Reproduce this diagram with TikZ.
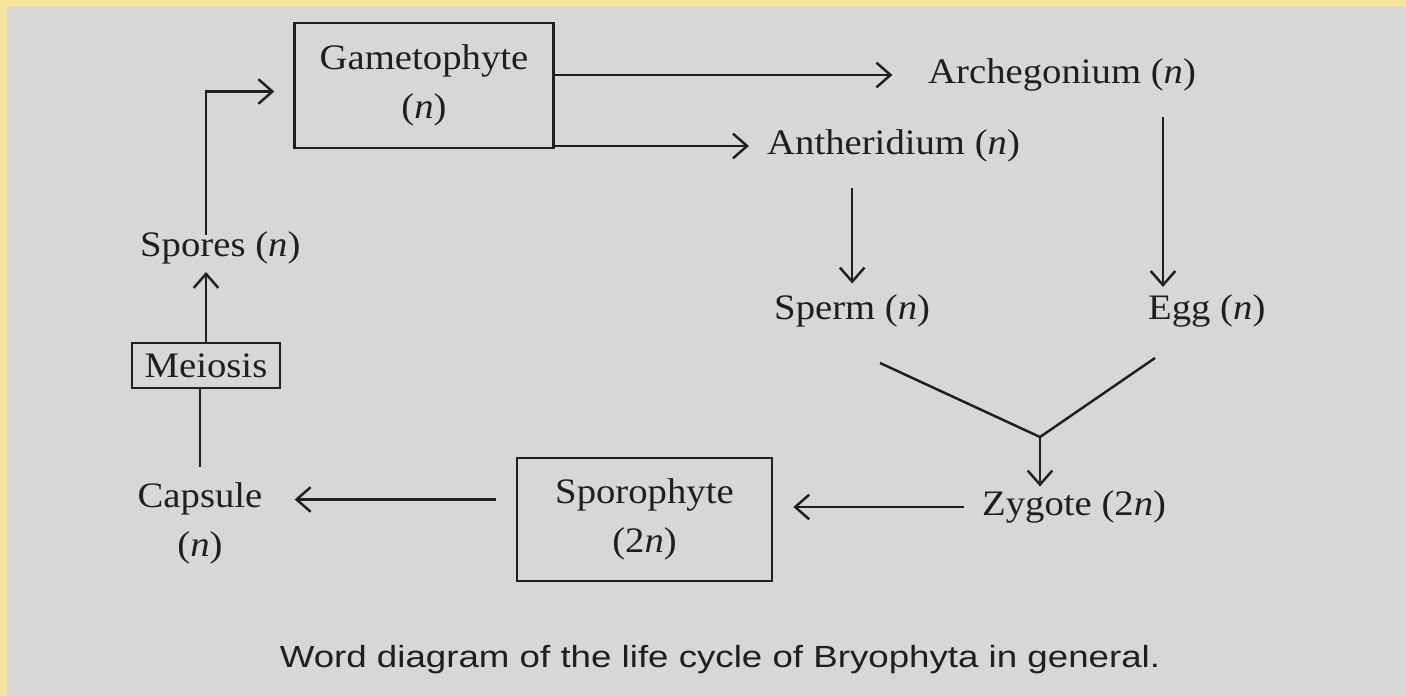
\documentclass[tikz,border=0pt]{standalone}
\usepackage{fontspec}
\setmainfont[FakeStretch=1.08]{Liberation Serif}
\setsansfont[FakeStretch=1.2]{Liberation Sans}
\usepackage{tikz}
\usetikzlibrary{positioning,arrows.meta,calc}
\usepackage{xcolor}
\definecolor{pagecol}{HTML}{D9D7D6}
\definecolor{bandcol}{HTML}{F6E39C}
\definecolor{inkcol}{HTML}{1F1F1F}
\newcommand{\hap}{(\textit{n})}% haploid mark
\newcommand{\dip}{(2\textit{n})}% diploid mark

\begin{document}
\begin{tikzpicture}[every node/.style={font=\fontsize{10.2}{14}\selectfont, text=inkcol, inner sep=1pt},
    stage/.style={draw=inkcol, line width=0.7pt, align=center},
    arr/.style={draw=inkcol, line width=0.7pt, -{Straight Barb[length=4pt,width=7pt,line width=0.7pt]}},
    plain/.style={draw=inkcol, line width=0.7pt}]
  \useasboundingbox (0,0) rectangle (14.06,-6.96);
  \fill[bandcol] (0,0) rectangle (14.06,-6.96);
  \fill[pagecol] (0.07,-0.07) rectangle (14.06,-6.96);
  % gametophyte generation
  \node[stage, minimum width=2.59cm, minimum height=1.25cm] (gam) at (4.24,-0.855) {Gametophyte\\\hap};
  \node[anchor=west] (arch) at (9.24,-0.75) {Archegonium \hap};
  \node[anchor=west] (anth) at (7.63,-1.46) {Antheridium \hap};
  \node[anchor=west] (sperm) at (7.70,-3.11) {Sperm \hap};
  \node[anchor=west] (egg) at (11.44,-3.11) {Egg \hap};
  % sporophyte generation
  \node[anchor=west] (zyg) at (9.78,-5.07) {Zygote \dip};
  \node[stage, minimum width=2.55cm, minimum height=1.23cm] (spo) at (6.445,-5.195) {Sporophyte\\\dip};
  \node[align=center] (cap) at (2.00,-5.23) {Capsule\\\hap};
  \node[stage, minimum width=1.48cm, minimum height=0.45cm] (mei) at (2.06,-3.655) {Meiosis};
  \node[anchor=west] (spores) at (1.36,-2.48) {Spores \hap};
  \node[font=\sffamily\fontsize{8.7}{10}\selectfont] (capt) at (7.20,-6.60) {Word diagram of the life cycle of Bryophyta in general.};
  % arrows
  \draw[arr, shorten >=9pt] (gam.east |- arch.west) -- (arch.west);
  \draw[arr, shorten >=4pt] (gam.east |- anth.west) -- (anth.west);
  \draw[arr, shorten <=6pt, shorten >=1pt] ([xshift=0.19cm]egg.north west |- arch.south) -- ([xshift=0.19cm]egg.north west);
  \draw[arr, shorten <=6pt, shorten >=2pt] (sperm.north |- anth.south) -- (sperm.north);
  \coordinate (sarm) at (8.80,-3.63);
  \coordinate (earm) at (11.55,-3.58);
  \coordinate (fuse) at (10.40,-4.37);
  \draw[plain] (sarm) -- (fuse) -- (earm);
  \draw[arr] (fuse) -- (fuse |- zyg.north);
  \draw[arr, shorten <=4pt, shorten >=5.7pt] (zyg.west) -- (zyg.west -| spo.east);
  \draw[arr, shorten <=5.7pt, shorten >=8pt] ([yshift=0.2cm]spo.west) -- ([yshift=0.2cm]spo.west -| cap.east);
  \draw[plain, shorten <=3pt] (cap.north) -- (cap.north |- mei.south);
  \draw[arr, shorten >=1pt] (mei.north) -- (mei.north |- spores.south);
  \draw[arr, shorten <=-2pt, shorten >=5.4pt] (mei.north |- spores.north) |- ([yshift=-0.06cm]gam.west);
\end{tikzpicture}
\end{document}
